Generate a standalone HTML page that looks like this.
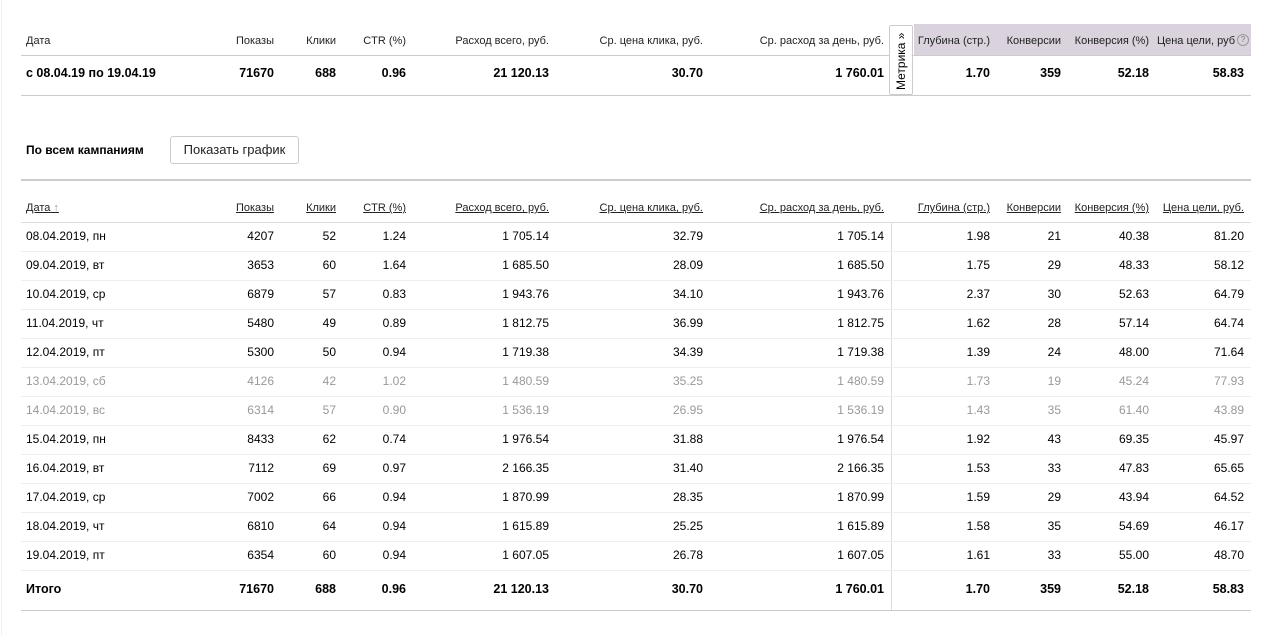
<!DOCTYPE html>
<html><head><meta charset="utf-8"><style>
*{margin:0;padding:0;box-sizing:border-box}
body{width:1270px;height:635px;background:#fff;font-family:"Liberation Sans","DejaVu Sans",sans-serif;color:#000;position:relative;overflow:hidden}
.t{position:absolute;white-space:nowrap;font-size:12px;line-height:14px}
.r{text-align:right}
.h{font-size:11px;color:#222}
.u{text-decoration:underline}
.b{font-weight:bold;font-size:12.5px}
.g{color:#999}
.line{position:absolute;left:21px;width:1230px;height:1px;background:#ddd}
</style></head><body>
<div style="position:absolute;left:1px;top:0;width:1px;height:635px;background:#eee"></div>
<div style="position:absolute;left:914px;top:24px;width:337px;height:32px;background:#dad2dd"></div>
<div class="line" style="top:55px;background:#ccc"></div>
<div class="line" style="top:95px;background:#ccc"></div>
<div style="position:absolute;left:889px;top:25px;width:24px;height:70px;border:1px solid #ccc;border-radius:2px;background:#fff"></div>
<div class="t" style="left:894px;top:90px;transform:rotate(-90deg);transform-origin:0 0;font-size:12px">Метрика »</div>
<div style="position:absolute;left:1237px;top:34px;width:12px;height:12px;border:1px solid #999;border-radius:50%;font-size:8px;line-height:10px;text-align:center;color:#777;font-family:'Liberation Sans';background:#dad2dd">?</div>
<div id="top"></div>
<div class="t b" style="left:26px;top:143px;font-size:12px">По всем кампаниям</div>
<div style="position:absolute;left:170px;top:136px;width:129px;height:28px;border:1px solid #ccc;border-radius:3px;font-size:13px;line-height:26px;text-align:center;color:#222">Показать график</div>
<div class="line" style="top:179px;height:2px;background:#ccc"></div>
<div style="position:absolute;left:891px;top:222px;width:1px;height:388px;background:#ddd"></div>
<div id="bot"></div>
<script>
var R=[274,336,406,549,703,884,990,1061,1149,1244];
var H=["Показы","Клики","CTR (%)","Расход всего, руб.","Ср. цена клика, руб.","Ср. расход за день, руб.","Глубина (стр.)","Конверсии","Конверсия (%)","Цена цели, руб."];
var s="";
function row(y,date,vals,cls){
 s+='<div class="t '+cls+'" style="left:26px;top:'+(y-7)+'px">'+date+'</div>';
 vals.forEach(function(v,i){s+='<div class="t r '+cls+'" style="right:'+(1270-R[i])+'px;top:'+(y-7)+'px">'+v+'</div>'});
}
s+='<div class="t h" style="left:26px;top:34px">Дата</div>';
H.forEach(function(v,i){s+='<div class="t r h" style="right:'+(1270-R[i]+(i==9?9:0))+'px;top:34px">'+(i==9?'Цена цели, руб':v)+'</div>'});
row(73,"с 08.04.19 по 19.04.19",["71670","688","0.96","21 120.13","30.70","1 760.01","1.70","359","52.18","58.83"],"b");
document.getElementById("top").innerHTML=s;s="";
s+='<div class="t h u" style="left:26px;top:201px">Дата<span style="text-decoration:none;color:#999"> ↑</span></div>';
H.forEach(function(v,i){s+='<div class="t r h u" style="right:'+(1270-R[i])+'px;top:201px">'+v+'</div>'});
s+='<div class="line" style="top:222px"></div>';
var D=[
["08.04.2019, пн","4207","52","1.24","1 705.14","32.79","1 705.14","1.98","21","40.38","81.20"],
["09.04.2019, вт","3653","60","1.64","1 685.50","28.09","1 685.50","1.75","29","48.33","58.12"],
["10.04.2019, ср","6879","57","0.83","1 943.76","34.10","1 943.76","2.37","30","52.63","64.79"],
["11.04.2019, чт","5480","49","0.89","1 812.75","36.99","1 812.75","1.62","28","57.14","64.74"],
["12.04.2019, пт","5300","50","0.94","1 719.38","34.39","1 719.38","1.39","24","48.00","71.64"],
["13.04.2019, сб","4126","42","1.02","1 480.59","35.25","1 480.59","1.73","19","45.24","77.93"],
["14.04.2019, вс","6314","57","0.90","1 536.19","26.95","1 536.19","1.43","35","61.40","43.89"],
["15.04.2019, пн","8433","62","0.74","1 976.54","31.88","1 976.54","1.92","43","69.35","45.97"],
["16.04.2019, вт","7112","69","0.97","2 166.35","31.40","2 166.35","1.53","33","47.83","65.65"],
["17.04.2019, ср","7002","66","0.94","1 870.99","28.35","1 870.99","1.59","29","43.94","64.52"],
["18.04.2019, чт","6810","64","0.94","1 615.89","25.25","1 615.89","1.58","35","54.69","46.17"],
["19.04.2019, пт","6354","60","0.94","1 607.05","26.78","1 607.05","1.61","33","55.00","48.70"]];
D.forEach(function(d,k){var y=236+k*29;row(y,d[0],d.slice(1),(k==5||k==6)?"g":"");s+='<div class="line" style="top:'+(y+15)+'px;background:#eee"></div>';});
row(589,"Итого",["71670","688","0.96","21 120.13","30.70","1 760.01","1.70","359","52.18","58.83"],"b");
s+='<div class="line" style="top:610px;background:#ccc"></div>';
document.getElementById("bot").innerHTML=s;
</script>
</body></html>
